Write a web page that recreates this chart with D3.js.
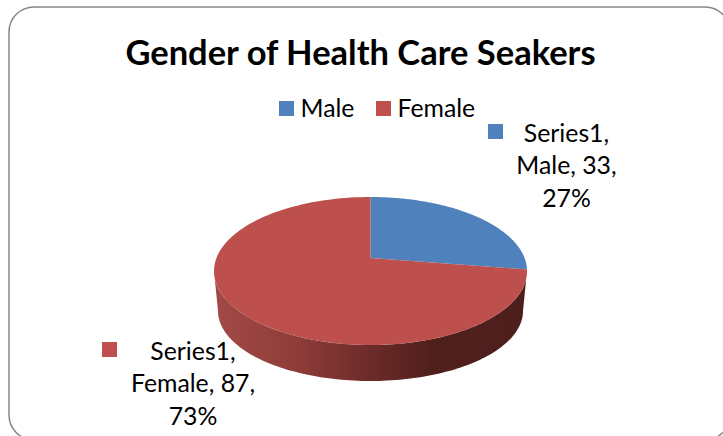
<!DOCTYPE html>
<html>
<head>
<meta charset="utf-8">
<script src="https://cdn.jsdelivr.net/npm/d3@7"></script>
<style>
	html, body { margin: 0; padding: 0; background: #fff; overflow: hidden; }
	text { font-family: Lato, "Open Sans", sans-serif; fill: #000; }
</style>
</head>
<body>
<div id="chart"></div>
<script>
const categories = ['Male', 'Female'];
const values = [33, 87];
const percents = ['27%', '73%'];
const seriesName = 'Series1';
const chartTitle = 'Gender of Health Care Seakers';

const colors = ['#4f81bd', '#bd4f4c'];
const legendColors = ['#4f81bd', '#c0504d'];

const width = 723,
	height = 436,
	tilt = -0.176;	// how far the pie centre sits behind the ellipse centre

const svg = d3.select('#chart')
	.append('svg')
	.attr('width', width)
	.attr('height', height)
	.style('display', 'block');

// chart frame, runs off the right and bottom of the picture
svg.append('rect')
	.attr('x', 9)
	.attr('y', 7)
	.attr('width', 721)
	.attr('height', 433)
	.attr('rx', 25)
	.attr('fill', '#fff')
	.attr('stroke', '#868686')
	.attr('stroke-width', 1.5);

// top face and bottom rim of the disc
const topX = d3.scaleLinear().domain([-1, 1]).range([214, 527]);
const topY = d3.scaleLinear().domain([-1, 1]).range([197, 345]);
const rimX = d3.scaleLinear().domain([-1, 1]).range([218, 523]);
const rimY = d3.scaleLinear().domain([-1, 1]).range([241, 381]);

// perspective view of a point on the unit circle, r = 0 gives the centre
function project(angle, r, xScale, yScale) {
	const u = r * Math.sin(angle),
		v = -r * Math.cos(angle),
		w = 1 + tilt * v;
	return [
		xScale(u * Math.sqrt(1 - tilt * tilt) / w),
		yScale((v + tilt) / w)
	];
}

function arcPoints(start, end, xScale, yScale) {
	return d3.range(0, 1.0001, 1 / 120)
		.map(t => project(start + (end - start) * t, 1, xScale, yScale));
}

const line = d3.line();
const pie = d3.pie().sort(null);
const slices = pie(values);

// side wall, only the part facing the viewer
const wallStart = Math.acos(tilt),
	wallEnd = 2 * Math.PI - wallStart;

const wallGradient = svg.append('defs')
	.append('linearGradient')
	.attr('id', 'wallGradient')
	.attr('gradientUnits', 'userSpaceOnUse')
	.attr('x1', 214)
	.attr('x2', 527)
	.attr('y1', 0)
	.attr('y2', 0);

wallGradient.selectAll('stop')
	.data([[0, '#a34a47'], [0.28, '#8c3b38'], [0.5, '#6c2b29'], [0.7, '#4f1f1c'], [1, '#4d1f1c']])
	.enter()
	.append('stop')
	.attr('offset', d => d[0])
	.attr('stop-color', d => d[1]);

svg.append('path')
	.attr('d', line(
		arcPoints(wallStart, wallEnd, rimX, rimY)
			.concat(arcPoints(wallEnd, wallStart, topX, topY))
	) + 'Z')
	.attr('fill', 'url(#wallGradient)');

// top face slices
svg.selectAll('path.slice')
	.data(slices)
	.enter()
	.append('path')
	.classed('slice', true)
	.attr('d', d => line(
		[project(0, 0, topX, topY)].concat(arcPoints(d.startAngle, d.endAngle, topX, topY))
	) + 'Z')
	.attr('fill', (d, i) => colors[i]);

// title
svg.append('text')
	.attr('x', 360.5)
	.attr('y', 65)
	.attr('text-anchor', 'middle')
	.attr('font-size', 34.5)
	.attr('font-weight', 700)
	.text(chartTitle);

// legend
const legendX = [279, 376];
const legend = svg.selectAll('g.legend')
	.data(categories)
	.enter()
	.append('g')
	.classed('legend', true)
	.attr('transform', (d, i) => `translate(${legendX[i]},101)`);

legend.append('rect')
	.attr('width', 15)
	.attr('height', 15)
	.attr('fill', (d, i) => legendColors[i]);

legend.append('text')
	.attr('x', 21.5)
	.attr('y', 15.5)
	.attr('font-size', 24.8)
	.text(d => d);

// data labels
const labelBoxX = [488, 102],
	labelBoxY = [124, 342],
	labelCentre = [566.5, 193],
	labelBase = [141.5, 359.5];

const labels = svg.selectAll('g.label')
	.data(categories)
	.enter()
	.append('g')
	.classed('label', true);

labels.append('rect')
	.attr('x', (d, i) => labelBoxX[i])
	.attr('y', (d, i) => labelBoxY[i])
	.attr('width', 15)
	.attr('height', 15)
	.attr('fill', (d, i) => legendColors[i]);

labels.selectAll('text')
	.data((d, i) => [`${seriesName},`, `${d}, ${values[i]},`, percents[i]]
		.map((str, row) => ({str, row, i})))
	.enter()
	.append('text')
	.attr('x', d => labelCentre[d.i])
	.attr('y', d => labelBase[d.i] + d.row * 32.5)
	.attr('text-anchor', 'middle')
	.attr('font-size', 24.8)
	.text(d => d.str);
</script>
</body>
</html>
